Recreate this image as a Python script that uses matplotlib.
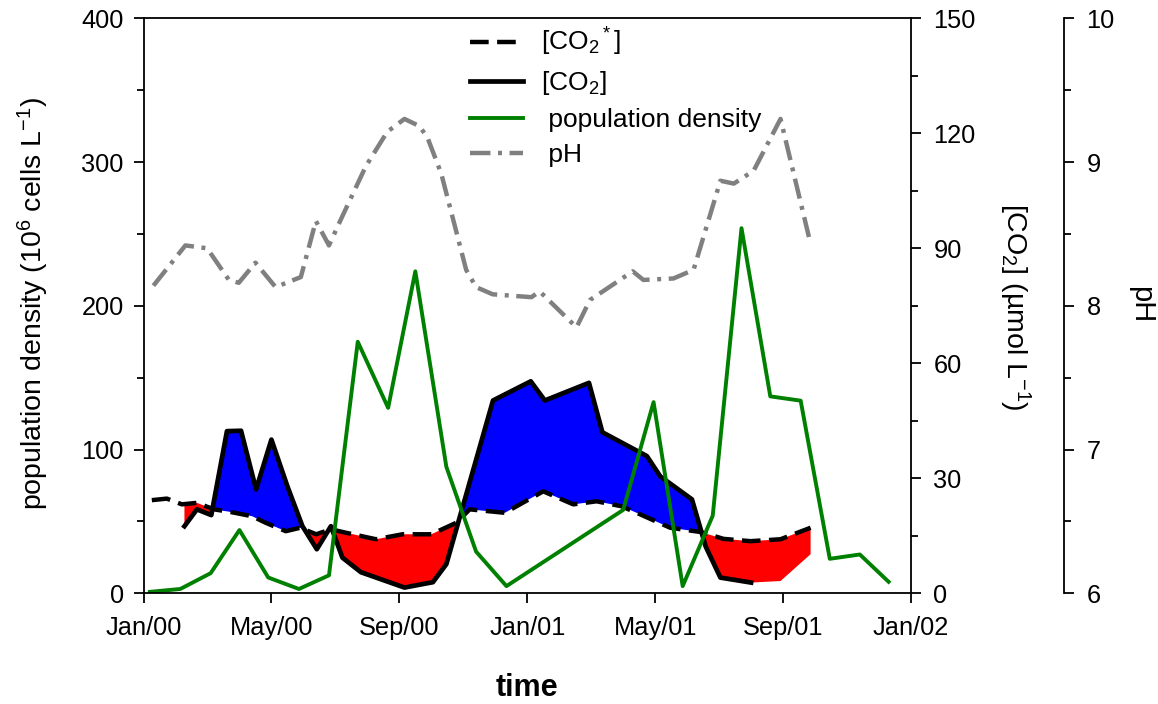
import numpy as np
import matplotlib
matplotlib.use("Agg")
import matplotlib.pyplot as plt

plt.rcParams['font.family'] = ['Liberation Sans', 'DejaVu Sans']
plt.rcParams['mathtext.fontset'] = 'custom'
plt.rcParams['mathtext.rm'] = 'Liberation Sans'
plt.rcParams['mathtext.it'] = 'Liberation Sans:italic'
plt.rcParams['mathtext.bf'] = 'Liberation Sans:bold'
plt.rcParams['mathtext.default'] = 'regular'

# ---------------- data (x in months since Jan 2000) ----------------
pop_month = [0.2, 1.15, 2.1, 3.0, 3.9, 4.86, 5.8, 6.7, 7.65, 8.5, 9.47, 10.4, 11.35,
             15.0, 15.95, 16.86, 17.8, 18.7, 19.6, 20.55, 21.46, 22.4, 23.3]
pop_density = [1, 3, 14, 44, 11, 3, 12.5, 175, 129, 224, 88, 29, 5,
               58, 133, 5, 54, 254, 137, 134, 24, 27, 8]

co2_month = [1.28, 1.67, 2.12, 2.61, 3.05, 3.52, 4.0, 4.5, 4.97, 5.42, 5.86, 6.22, 6.8,
             8.16, 9.05, 9.47, 10.93, 12.11, 12.55, 13.93, 14.35, 15.74, 16.16, 17.15,
             17.58, 18.04, 19.0, 19.92, 20.86]
co2 = [17.5, 21.9, 20.4, 42.3, 42.4, 27.1, 40.1, 27.9, 17.5, 11.5, 17.5, 9.3, 5.5,
       1.5, 2.9, 7.6, 50.3, 55.3, 50.3, 54.9, 42.0, 35.8, 30.5, 24.5,
       12.2, 4.1, 2.8, 3.2, 10.2]
co2_line_count = 27  # the solid line stops at Aug/01; remaining values only bound the shading

co2s_month = [0.26, 0.73, 1.2, 1.67, 2.2, 2.67, 3.4, 3.82, 4.45, 4.9, 5.4, 5.86, 6.33, 7.27,
              8.1, 9.0, 9.78, 10.2, 11.3, 12.5, 13.44, 14.17, 14.95, 15.53, 16.47, 17.41,
              18.14, 18.98, 19.92, 20.86]
co2_star = [24.3, 24.7, 23.2, 23.6, 21.9, 21.3, 20.1, 18.4, 16.2, 17.1, 15.4, 16.7, 15.8, 14.1,
            15.4, 15.4, 18.4, 21.9, 21.0, 26.6, 23.2, 24.0, 22.7, 20.6, 17.1, 16.0,
            14.2, 13.6, 14.1, 17.1]

ph_month = [0.31, 1.31, 1.99, 2.67, 2.98, 3.5, 4.13, 4.92, 5.39, 5.80, 6.17, 6.95, 7.62,
            8.16, 8.63, 8.88, 9.31, 9.73, 10.09, 10.4, 10.92, 12.13, 12.39, 13.54, 13.96,
            15.3, 15.63, 16.57, 17.2, 18.04, 18.46, 19.08, 19.92, 20.84]
ph = [8.14, 8.42, 8.40, 8.18, 8.16, 8.30, 8.13, 8.20, 8.59, 8.42, 8.60, 8.97, 9.21,
      9.30, 9.25, 9.17, 8.92, 8.56, 8.25, 8.13, 8.08, 8.06, 8.10, 7.85, 8.04,
      8.24, 8.18, 8.19, 8.25, 8.87, 8.85, 8.94, 9.30, 8.45]

xtick_pos = [0, 4, 8, 12, 16, 20, 24]
xtick_labels = ['Jan/00', 'May/00', 'Sep/00', 'Jan/01', 'May/01', 'Sep/01', 'Jan/02']

# ---------------- figure ----------------
W, H = 1158, 704
fig = plt.figure(figsize=(W / 100, H / 100), dpi=100)
L, R, T, B = 143.5, 911, 18.3, 593.3
ax = fig.add_axes([L / W, 1 - B / H, (R - L) / W, (B - T) / H])
ax2 = ax.twinx()
ax3 = ax.twinx()

ax2.set_zorder(1)
ax.set_zorder(2)
ax3.set_zorder(3)
ax.patch.set_visible(False)
ax3.patch.set_visible(False)

TICK_FS = 18.3
SPW = 1.3

# CO2 shading + lines
xf = np.union1d(co2_month, co2s_month)
xf = xf[(xf >= co2_month[0]) & (xf <= co2_month[-1])]
y1 = np.interp(xf, co2_month, co2)
y2 = np.interp(xf, co2s_month, co2_star)
ax2.fill_between(xf, y1, y2, where=y1 >= y2, interpolate=True, color='#0000FF', lw=0)
ax2.fill_between(xf, y1, y2, where=y1 <= y2, interpolate=True, color='#FF0000', lw=0)
l_star, = ax2.plot(co2s_month, co2_star, color='black', lw=3.2, dashes=(4.2, 1.9))
l_co2, = ax2.plot(co2_month[:co2_line_count], co2[:co2_line_count], color='black', lw=3.4)

l_pop, = ax.plot(pop_month, pop_density, color='#008000', lw=2.8)
l_ph, = ax3.plot(ph_month, ph, color='#808080', lw=3.2, dashes=(4.6, 1.7, 0.9, 1.7))

# axes limits/ticks
ax.set_xlim(0, 24)
ax.set_ylim(0, 400)
ax2.set_ylim(0, 150)
ax3.set_ylim(6, 10)

ax.set_xticks(xtick_pos)
ax.set_xticklabels(xtick_labels)
ax.set_yticks([0, 100, 200, 300, 400])
ax.set_yticks([50, 150, 250, 350], minor=True)
ax2.set_yticks([0, 30, 60, 90, 120, 150])
ax2.set_yticks([15, 45, 75, 105, 135], minor=True)
ax3.set_yticks([6, 7, 8, 9, 10])
ax3.set_yticks([6.5, 7.5, 8.5, 9.5], minor=True)

for a in (ax, ax2, ax3):
    a.tick_params(which='major', direction='out', length=7.2, width=SPW, labelsize=TICK_FS)
    a.tick_params(which='minor', direction='out', length=4.7, width=SPW)
ax.tick_params(axis='y', pad=7)
ax.tick_params(axis='x', pad=9)
ax2.tick_params(axis='y', pad=9)
ax3.tick_params(axis='y', pad=9)

ax.spines['right'].set_visible(False)
for s in ('left', 'bottom', 'top'):
    ax.spines[s].set_linewidth(SPW)
for s in ('left', 'bottom', 'top'):
    ax2.spines[s].set_visible(False)
    ax3.spines[s].set_visible(False)
ax2.spines['right'].set_linewidth(SPW)
ax3.spines['right'].set_linewidth(SPW)
ax3.spines['right'].set_position(('axes', (1064 - L) / (R - L)))

# labels
fig.text(33 / W, 1 - 303 / H, 'population density (10$^6$ cells L$^{-1}$)',
         rotation=90, ha='center', va='center', fontsize=20.5)
fig.text(1015 / W, 1 - 307 / H, '[CO$_2$] (\u00b5mol L$^{-1}$)',
         rotation=270, ha='center', va='center', fontsize=20.5)
fig.text(1141 / W, 1 - 305 / H, 'pH', rotation=270, ha='center', va='center',
         fontsize=21)
fig.text(527 / W, 1 - 688 / H, 'time', ha='center', va='center', fontsize=22,
         fontweight='bold')

leg = fig.legend([l_star, l_co2, l_pop, l_ph],
                 ['[CO$_2$$^*$]', '[CO$_2$]', ' population density', ' pH'],
                 loc='upper left', bbox_to_anchor=(470 / W, 1 - 26 / H), frameon=False,
                 fontsize=19, handlelength=2.0, handletextpad=0.7, labelspacing=0.42,
                 borderpad=0, borderaxespad=0)

fig.savefig('out.png', dpi=100, facecolor='white')
